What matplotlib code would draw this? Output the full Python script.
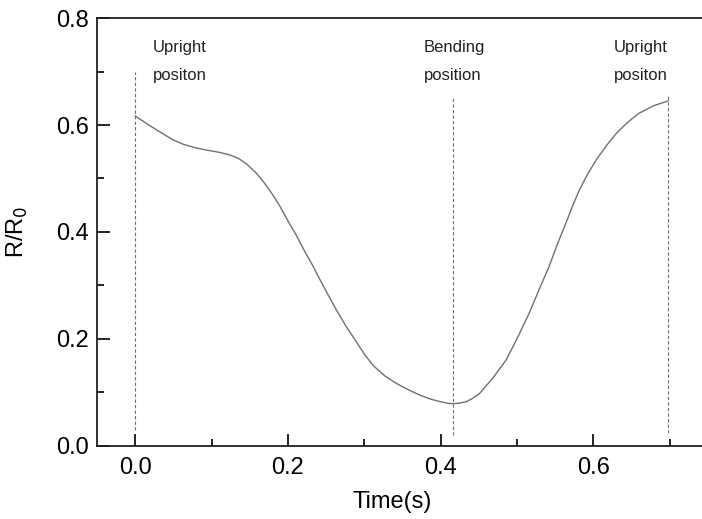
import matplotlib
matplotlib.use("Agg")
import matplotlib.pyplot as plt
from matplotlib.ticker import MultipleLocator

plt.rcParams['font.family'] = ['Liberation Sans', 'DejaVu Sans']

# values
time_s = [0.000, 0.020, 0.037, 0.050, 0.063, 0.080, 0.094, 0.110, 0.124, 0.136, 0.146,
          0.158, 0.168, 0.180, 0.190, 0.200, 0.211, 0.222, 0.233, 0.242, 0.251, 0.264,
          0.277, 0.290, 0.301, 0.312, 0.327, 0.342, 0.358, 0.373, 0.386, 0.399, 0.409,
          0.416, 0.425, 0.434, 0.442, 0.451, 0.468, 0.486, 0.501, 0.516, 0.529, 0.542,
          0.553, 0.564, 0.573, 0.582, 0.593, 0.604, 0.617, 0.630, 0.645, 0.660, 0.679,
          0.698]
ratio = [0.617, 0.598, 0.583, 0.572, 0.564, 0.557, 0.553, 0.549, 0.544, 0.537, 0.527,
         0.511, 0.494, 0.470, 0.447, 0.421, 0.394, 0.364, 0.336, 0.311, 0.287, 0.253,
         0.222, 0.194, 0.170, 0.150, 0.131, 0.117, 0.105, 0.095, 0.088, 0.083, 0.080,
         0.079, 0.080, 0.083, 0.089, 0.098, 0.126, 0.161, 0.203, 0.248, 0.292, 0.335,
         0.377, 0.416, 0.449, 0.479, 0.509, 0.535, 0.561, 0.584, 0.605, 0.622, 0.636,
         0.645]

marker_x = [0.0, 0.416, 0.698]
marker_top = [0.70, 0.655, 0.656]
marker_bottom = [0.03, 0.02, 0.024]
labels = [("Upright", "positon"), ("Bending", "position"), ("Upright", "positon")]
label_x = [0.023, 0.378, 0.698]
label_ha = ['left', 'left', 'right']

fig = plt.figure(figsize=(7.02, 5.19), dpi=100)
ax = fig.add_axes([0.1382, 0.1407, 0.870, 0.8246])

ax.plot(time_s, ratio, color='#707070', lw=1.0)
for x, top, bot in zip(marker_x, marker_top, marker_bottom):
    ax.plot([x, x], [bot, top], color='#707070', lw=0.8, ls=(0, (3, 2)))

for (l1, l2), x, ha in zip(labels, label_x, label_ha):
    ax.text(x, 0.745, l1, ha=ha, va='center', fontsize=12, color='#222222')
    ax.text(x, 0.692, l2, ha=ha, va='center', fontsize=12, color='#222222')

ax.set_xlim(-0.05, 0.75)
ax.set_ylim(0, 0.8)
ax.xaxis.set_major_locator(MultipleLocator(0.2))
ax.xaxis.set_minor_locator(MultipleLocator(0.1))
ax.yaxis.set_major_locator(MultipleLocator(0.2))
ax.yaxis.set_minor_locator(MultipleLocator(0.1))
ax.xaxis.set_major_formatter(lambda v, p: f"{v:.1f}")
ax.yaxis.set_major_formatter(lambda v, p: f"{v:.1f}")
ax.tick_params(which='major', direction='in', length=9, width=1.2, labelsize=17, pad=8)
ax.tick_params(which='minor', direction='in', length=5, width=1.2)
ax.tick_params(axis='y', pad=6)
for s in ax.spines.values():
    s.set_linewidth(1.3)
    s.set_color('#222222')

ax.set_xlabel("Time(s)", fontsize=17)
ax.set_ylabel("R/R$_0$", fontsize=17)
ax.xaxis.set_label_coords(0.483, -0.105)
ax.yaxis.set_label_coords(-0.11, 0.5)

fig.savefig("out.png", dpi=100)
